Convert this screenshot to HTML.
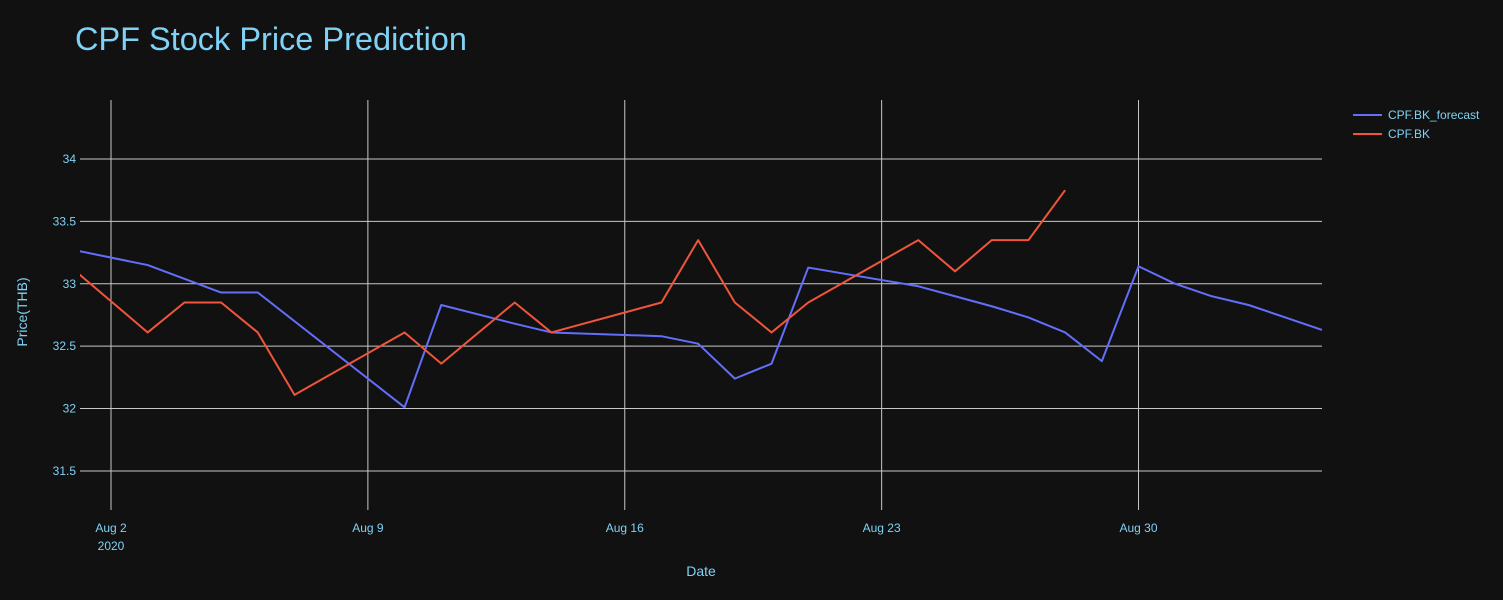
<!DOCTYPE html>
<html><head><meta charset="utf-8"><style>
html,body{margin:0;padding:0;background:#111111;}
svg{display:block;font-family:"Liberation Sans",sans-serif;}
</style></head><body>
<svg id="chart" width="1503" height="600">
<rect width="1503" height="600" fill="#111111"/>
<text x="75" y="50" font-size="32.5" fill="#7fd2f5">CPF Stock Price Prediction</text>
<defs><clipPath id="clip"><rect x="80" y="100" width="1242" height="410"/></clipPath></defs>
<g id="grid"></g>
<g id="lines" clip-path="url(#clip)"></g>
<g id="axes"></g>
<text x="701" y="576" font-size="14" fill="#7fd2f5" text-anchor="middle">Date</text>
<text transform="translate(27,312) rotate(-90)" font-size="14" fill="#7fd2f5" text-anchor="middle">Price(THB)</text>
<g>
<g><line x1="1353" y1="115" x2="1382" y2="115" stroke="#636efa" stroke-width="2"/><text x="1388" y="119" font-size="12" fill="#7fd2f5">CPF.BK_forecast</text></g>
<g><line x1="1353" y1="134" x2="1382" y2="134" stroke="#ef553b" stroke-width="2"/><text x="1388" y="138" font-size="12" fill="#7fd2f5">CPF.BK</text></g>
</g>
</svg>
<script>
const actualDays=[1,3,4,5,6,7,10,11,13,14,17,18,19,20,21,24,25,26,27,28];
const actualValues=[33.11,32.61,32.85,32.85,32.61,32.11,32.61,32.36,32.85,32.61,32.85,33.35,32.85,32.61,32.85,33.35,33.1,33.35,33.35,33.75];
const forecastDays=[1,3,5,6,10,11,13,14,17,18,19,20,21,24,25,26,27,28,29,30,31,32,33,34,35];
const forecastValues=[33.27,33.15,32.93,32.93,32.01,32.83,32.68,32.61,32.58,32.52,32.24,32.36,33.13,32.98,32.9,32.82,32.73,32.61,32.38,33.14,33.0,32.9,32.83,32.73,32.63];
const yTicks=[31.5,32,32.5,33,33.5,34];
const yTickLabels=["31.5","32","32.5","33","33.5","34"];
const xTicks=[2,9,16,23,30];
const xTickLabels=["Aug 2","Aug 9","Aug 16","Aug 23","Aug 30"];
const NS="http://www.w3.org/2000/svg";
const X0=80,X1=1322,Y0=510,Y1=100,dMin=1.155,dMax=35.0,vMin=31.187,vMax=34.473;
function xs(d){return X0+(d-dMin)/(dMax-dMin)*(X1-X0);}
function ys(v){return Y0-(v-vMin)/(vMax-vMin)*(Y0-Y1);}
const grid=document.getElementById('grid'),axes=document.getElementById('axes'),lines=document.getElementById('lines');
yTicks.forEach((v,i)=>{
 const l=document.createElementNS(NS,'line');
 l.setAttribute('x1',X0);l.setAttribute('x2',X1);l.setAttribute('y1',ys(v));l.setAttribute('y2',ys(v));
 l.setAttribute('stroke','#c8c8c8');l.setAttribute('stroke-width','1');
 
 
 grid.appendChild(l);
 const t=document.createElementNS(NS,'text');
 t.setAttribute('x',X0-4);t.setAttribute('y',ys(v)+4);t.setAttribute('text-anchor','end');
 t.setAttribute('font-size','12');t.setAttribute('fill','#7fd2f5');t.textContent=yTickLabels[i];
 
 
 axes.appendChild(t);
});
xTicks.forEach((d,i)=>{
 const l=document.createElementNS(NS,'line');
 l.setAttribute('x1',xs(d));l.setAttribute('x2',xs(d));l.setAttribute('y1',Y1);l.setAttribute('y2',Y0);
 l.setAttribute('stroke','#c8c8c8');l.setAttribute('stroke-width','1');
 
 
 grid.appendChild(l);
 const t=document.createElementNS(NS,'text');
 t.setAttribute('x',xs(d));t.setAttribute('y',532);t.setAttribute('text-anchor','middle');
 t.setAttribute('font-size','12');t.setAttribute('fill','#7fd2f5');t.textContent=xTickLabels[i];
 
 
 axes.appendChild(t);
 if(i===0){const y=document.createElementNS(NS,'text');
 y.setAttribute('x',xs(d));y.setAttribute('y',550);y.setAttribute('text-anchor','middle');
 y.setAttribute('font-size','12');y.setAttribute('fill','#7fd2f5');y.textContent='2020';
 
 
 axes.appendChild(y);}
});
function drawLine(days,vals,color,name){
 const p=document.createElementNS(NS,'polyline');
 p.setAttribute('points',days.map((d,i)=>xs(d)+','+ys(vals[i])).join(' '));
 p.setAttribute('fill','none');p.setAttribute('stroke',color);p.setAttribute('stroke-width','2');
 p.setAttribute('stroke-linejoin','round');
 
 
 lines.appendChild(p);
}
drawLine(forecastDays,forecastValues,'#636efa','forecast-line');
drawLine(actualDays,actualValues,'#ef553b','actual-price-line');
</script>
</body></html>
